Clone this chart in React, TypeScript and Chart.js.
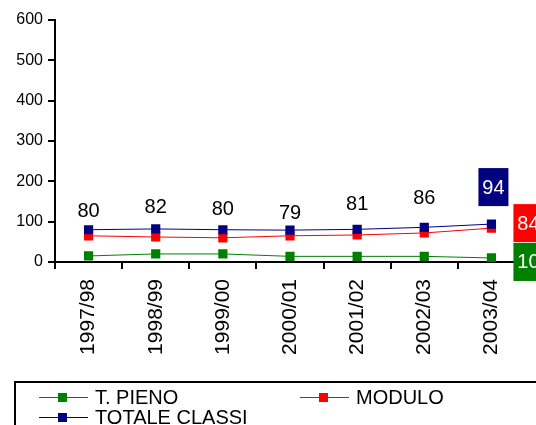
import React, { useEffect, useRef } from "react";
import { Chart, registerables } from "chart.js";

Chart.register(...registerables);

const categories = ["1997/98", "1998/99", "1999/00", "2000/01", "2001/02", "2002/03", "2003/04"];
const tPieno = [15, 20, 20, 14, 14, 14, 10];
const modulo = [65, 62, 60, 65, 67, 72, 84];
const totale = [80, 82, 80, 79, 81, 86, 94];
const yTicks = [0, 100, 200, 300, 400, 500, 600];

const seriesNames = ["T. PIENO", "MODULO", "TOTALE CLASSI"];
const seriesColors = ["#008000", "#FF0000", "#000080"];

const FONT = "'Liberation Sans', Arial, Helvetica, sans-serif";

// style: how far above each point its label sits (px)
const labelLift = [18, 21, 20, 17, 25, 29];

const valueLabels = {
  id: "valueLabels",
  afterDatasetsDraw(chart: any) {
    const ctx = chart.ctx;
    ctx.save();
    ctx.font = `20px ${FONT}`;
    ctx.textAlign = "center";
    ctx.textBaseline = "middle";
    const totMeta = chart.getDatasetMeta(2);
    const totData = chart.data.datasets[2].data;
    const last = totData.length - 1;
    totMeta.data.forEach((pt: any, i: number) => {
      if (i === last) return;
      ctx.fillStyle = "#000";
      ctx.fillText(String(totData[i]), pt.x, pt.y - (labelLift[i] ?? 20));
    });
    const boxes = [
      { ds: 2, dx: -13, dy: -56 },
      { ds: 1, dx: 22, dy: -24 },
      { ds: 0, dx: 22, dy: -15 },
    ];
    boxes.forEach((b) => {
      const meta = chart.getDatasetMeta(b.ds);
      const pt = meta.data[last];
      const val = chart.data.datasets[b.ds].data[last];
      const w = 30, h = 38;
      const x0 = pt.x + b.dx, y0 = pt.y + b.dy;
      ctx.fillStyle = seriesColors[b.ds];
      ctx.fillRect(x0, y0, w, h);
      ctx.fillStyle = "#fff";
      ctx.fillText(String(val), x0 + w / 2, y0 + h / 2 + 1);
    });
    ctx.restore();
  },
};

const boxLegend = {
  id: "boxLegend",
  afterDraw(chart: any) {
    const ctx = chart.ctx;
    ctx.save();
    ctx.strokeStyle = "#000";
    ctx.lineWidth = 2;
    ctx.strokeRect(15, 382, 600, 100);
    const items = [
      { ds: 0, x: 39, y: 397 },
      { ds: 1, x: 300, y: 397 },
      { ds: 2, x: 39, y: 417 },
    ];
    ctx.font = `20px ${FONT}`;
    ctx.textAlign = "left";
    ctx.textBaseline = "middle";
    items.forEach((it) => {
      const c = seriesColors[it.ds];
      ctx.strokeStyle = c;
      ctx.lineWidth = 1;
      ctx.beginPath();
      ctx.moveTo(it.x, it.y + 0.5);
      ctx.lineTo(it.x + 49, it.y + 0.5);
      ctx.stroke();
      ctx.fillStyle = c;
      ctx.fillRect(it.x + 19, it.y - 4, 9, 9);
      ctx.fillStyle = "#000";
      ctx.fillText(chart.data.datasets[it.ds].label, it.x + 56, it.y + 1);
    });
    ctx.restore();
  },
};

export default function App() {
  const ref = useRef<HTMLCanvasElement | null>(null);
  useEffect(() => {
    if (!ref.current) return;
    const mk = (i: number, data: number[], order: number) => ({
      label: seriesNames[i],
      data,
      borderColor: seriesColors[i],
      backgroundColor: seriesColors[i],
      pointBackgroundColor: seriesColors[i],
      pointBorderColor: seriesColors[i],
      borderWidth: 1,
      pointBorderWidth: 0,
      pointStyle: "rect",
      pointRadius: 6.5,
      tension: 0,
      order,
    });
    const chart = new Chart(ref.current, {
      type: "line",
      data: {
        labels: categories,
        datasets: [mk(0, tPieno, 2), mk(1, modulo, 1), mk(2, totale, 0)] as any,
      },
      options: {
        animation: false,
        responsive: false,
        devicePixelRatio: 1,
        layout: { padding: { left: 0, top: 20, right: 11, bottom: 0 } },
        plugins: { legend: { display: false }, tooltip: { enabled: false } },
        scales: {
          x: {
            type: "category",
            offset: true,
            afterFit: (s: any) => { s.height = 163; },
            grid: { drawOnChartArea: false, drawTicks: true, tickLength: 7, color: "#000", lineWidth: 2, offset: true },
            border: { display: true, color: "#000", width: 2 },
            ticks: {
              minRotation: 90, maxRotation: 90, autoSkip: false, padding: 10,
              color: "#000", font: { family: FONT, size: 21 },
            },
          },
          y: {
            min: 0,
            max: 600,
            afterFit: (s: any) => { s.width = 55; },
            afterBuildTicks: (s: any) => { s.ticks = yTicks.map((v) => ({ value: v })); },
            grid: { drawOnChartArea: false, drawTicks: true, tickLength: 7, color: "#000", lineWidth: 2 },
            border: { display: true, color: "#000", width: 2 },
            ticks: { padding: 5, color: "#000", font: { family: FONT, size: 16 } },
          },
        },
      },
      plugins: [valueLabels, boxLegend],
    });
    return () => chart.destroy();
  }, []);
  return (
    <div style={{ position: "absolute", left: 0, top: 0, width: 536, height: 425, background: "#fff" }}>
      <canvas ref={ref} width={536} height={425} style={{ display: "block" }} />
    </div>
  );
}
